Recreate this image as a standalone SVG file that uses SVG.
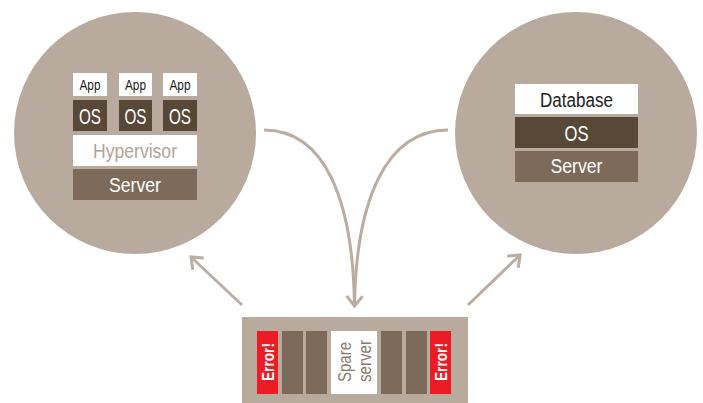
<svg xmlns="http://www.w3.org/2000/svg" width="703" height="403" viewBox="0 0 703 403">
<style>
.t{font-family:"Liberation Sans",Arial,sans-serif;text-anchor:middle}
.w{fill:#ffffff}
.d{fill:#574838}
.s{fill:#7e6a5a}
.c{fill:#b9aa9e}
.r{fill:#ed1c24}
.con{fill:none;stroke:#bcada1;stroke-width:3}
</style>
<defs>
<marker id="ah" markerUnits="userSpaceOnUse" markerWidth="30" markerHeight="30" refX="0" refY="0" viewBox="-15 -15 30 30" orient="auto" overflow="visible">
<path d="M-10,-8 L0,0 L-10,8" fill="none" stroke="#bcada1" stroke-width="3"/>
</marker>
</defs>
<g id="left-server">
<circle class="c" cx="135" cy="133" r="121"/>
<rect class="w" x="73" y="73" width="34" height="23"/>
<rect class="w" x="119" y="73" width="33" height="23"/>
<rect class="w" x="163" y="73" width="34" height="23"/>
<text class="t" x="90" y="90" font-size="14" fill="#222" textLength="21" lengthAdjust="spacingAndGlyphs">App</text>
<text class="t" x="135.5" y="90" font-size="14" fill="#222" textLength="21" lengthAdjust="spacingAndGlyphs">App</text>
<text class="t" x="180" y="90" font-size="14" fill="#222" textLength="21" lengthAdjust="spacingAndGlyphs">App</text>
<rect class="d" x="73" y="100" width="34" height="31"/>
<rect class="d" x="119" y="100" width="33" height="31"/>
<rect class="d" x="163" y="100" width="34" height="31"/>
<text class="t w" x="90" y="124" font-size="21.5" textLength="22" lengthAdjust="spacingAndGlyphs">OS</text>
<text class="t w" x="135.5" y="124" font-size="21.5" textLength="22" lengthAdjust="spacingAndGlyphs">OS</text>
<text class="t w" x="180" y="124" font-size="21.5" textLength="22" lengthAdjust="spacingAndGlyphs">OS</text>
<rect class="w" x="73" y="135" width="124" height="31"/>
<text class="t" x="135" y="158" font-size="20" fill="#b3a397" textLength="84" lengthAdjust="spacingAndGlyphs">Hypervisor</text>
<rect class="s" x="73" y="169" width="124" height="31"/>
<text class="t w" x="135" y="192" font-size="21" textLength="52" lengthAdjust="spacingAndGlyphs">Server</text>
</g>
<g id="right-server">
<circle class="c" cx="576" cy="133" r="121"/>
<rect class="w" x="515" y="84" width="123" height="30"/>
<text class="t" x="576.5" y="106.5" font-size="20" fill="#222" textLength="73" lengthAdjust="spacingAndGlyphs">Database</text>
<rect class="d" x="515" y="117" width="123" height="31"/>
<text class="t w" x="576.5" y="141" font-size="21.5" textLength="24" lengthAdjust="spacingAndGlyphs">OS</text>
<rect class="s" x="515" y="151" width="123" height="31"/>
<text class="t w" x="576.5" y="173" font-size="21" textLength="52" lengthAdjust="spacingAndGlyphs">Server</text>
</g>
<g id="server-rack">
<rect class="c" x="242" y="317" width="226" height="86"/>
<rect class="r" x="257" y="331" width="21" height="63"/>
<rect class="s" x="282" y="331" width="21" height="63"/>
<rect class="s" x="306" y="331" width="21" height="63"/>
<rect class="w" x="331" y="331" width="46" height="63"/>
<rect class="s" x="381" y="331" width="21" height="63"/>
<rect class="s" x="406" y="331" width="21" height="63"/>
<rect class="r" x="430" y="331" width="21" height="63"/>
<text class="t w" transform="translate(273.5,362) rotate(-90)" font-size="16" font-weight="bold" textLength="38" lengthAdjust="spacingAndGlyphs">Error!</text>
<text class="t w" transform="translate(446.5,362) rotate(-90)" font-size="16" font-weight="bold" textLength="38" lengthAdjust="spacingAndGlyphs">Error!</text>
<text class="t" transform="translate(351,362) rotate(-90)" font-size="18" fill="#8a7a6e" textLength="40" lengthAdjust="spacingAndGlyphs">Spare</text>
<text class="t" transform="translate(370.5,361) rotate(-90)" font-size="18" fill="#8a7a6e" textLength="42" lengthAdjust="spacingAndGlyphs">server</text>
</g>
<g id="connectors">
<path class="con" d="M264,130 C325,130 353,200 354.5,306"/>
<path class="con" d="M448,130 C386,130 356,200 354.5,306" marker-end="url(#ah)"/>
<path class="con" d="M242,305 L191,257" marker-end="url(#ah)"/>
<path class="con" d="M468,305 L520,255" marker-end="url(#ah)"/>
</g>
</svg>
